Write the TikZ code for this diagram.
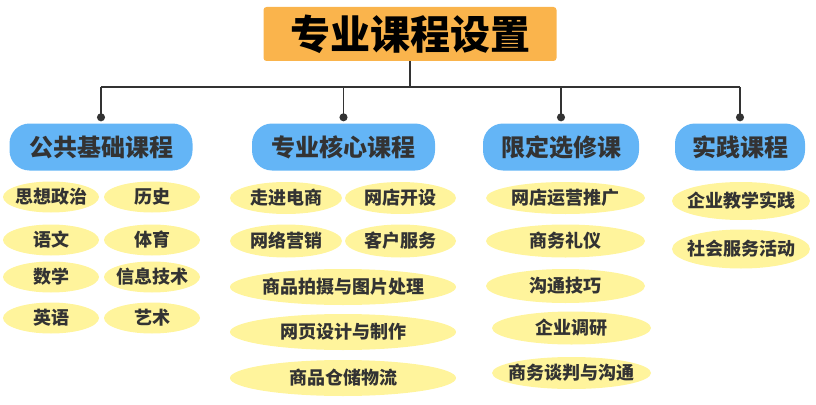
\documentclass[tikz,border=0pt]{standalone}
\usepackage{fontspec}
\setmainfont{Noto Sans CJK SC}
\usepackage{xcolor}
\usetikzlibrary{arrows.meta,positioning,shapes.geometric}

\definecolor{titleorange}{RGB}{250,180,76}
\definecolor{groupblue}{RGB}{100,181,246}
\definecolor{itemyellow}{RGB}{255,244,156}
\definecolor{ink}{RGB}{51,51,51}

\tikzset{
  title/.style={fill=titleorange,rounded corners=3pt,minimum width=293pt,minimum height=54pt,
    font=\bfseries\fontsize{40}{44}\selectfont,text=black},
  group/.style={fill=groupblue,rounded corners=20pt,minimum height=47pt,
    font=\bfseries\fontsize{24}{26}\selectfont,text=ink},
  course/.style={ellipse,fill=itemyellow,inner ysep=0pt,inner xsep=-16pt,minimum height=31pt,
    font=\bfseries\fontsize{18}{20}\selectfont,text=ink},
  link/.style={draw=ink,line width=1.3pt},
}

\begin{document}
\begin{tikzpicture}[x=1pt,y=-1pt,>={Circle[length=8pt]}]
  \useasboundingbox (0,0) rectangle (816,404);
  \node[title] (top) at (410,34) {专业课程设置};
  \coordinate (bus) at (410,87);

  % the four groups
  \node[group,minimum width=183pt] (base)  at (101,147)   {公共基础课程};
  \node[group,minimum width=183pt] (core)  at (343.5,147) {专业核心课程};
  \node[group,minimum width=156pt] (elect) at (561,147)   {限定选修课};
  \node[group,minimum width=130pt] (prac)  at (740,147)   {实践课程};

  \draw[link] (top) -- (bus);
  \draw[link] (base |- bus) -- (prac |- bus);
  \foreach \g in {base,core,elect,prac}
    \draw[link,->,shorten >=2pt] (\g |- bus) -- (\g.north);

  % public basics
  \node[course,minimum width=96pt] (b1) at (51,197)  {思想政治};
  \node[course,minimum width=96pt] (b2) at (152,197) {历史};
  \node[course,minimum width=96pt] (b3) at (51,240)  {语文};
  \node[course,minimum width=96pt] (b4) at (152,240) {体育};
  \node[course,minimum width=96pt] (b5) at (51,277)  {数学};
  \node[course,minimum width=96pt] (b6) at (152,277) {信息技术};
  \node[course,minimum width=96pt] (b7) at (51,318)  {英语};
  \node[course,minimum width=96pt] (b8) at (152,318) {艺术};

  % core
  \node[course,minimum width=112pt,minimum height=32pt] (c1) at (286,198)   {走进电商};
  \node[course,minimum width=111pt,minimum height=32pt] (c2) at (400.5,198) {网店开设};
  \node[course,minimum width=112pt,minimum height=33pt] (c3) at (286,241)   {网络营销};
  \node[course,minimum width=111pt,minimum height=33pt] (c4) at (400.5,241) {客户服务};
  \node[course,minimum width=226pt,minimum height=36pt] (c5) at (343,287) {商品拍摄与图片处理};
  \node[course,minimum width=226pt,minimum height=36pt] (c6) at (343,332) {网页设计与制作};
  \node[course,minimum width=226pt,minimum height=36pt] (c7) at (343,378) {商品仓储物流};

  % electives
  \node[course,minimum width=159pt,minimum height=32pt] (e1) at (565.5,198) {网店运营推广};
  \node[course,minimum width=159pt,minimum height=33pt] (e2) at (565.5,241) {商务礼仪};
  \node[course,minimum width=159pt,minimum height=34pt] (e3) at (565.5,286) {沟通技巧};
  \node[course,minimum width=159pt,minimum height=33pt] (e4) at (571.5,328) {企业调研};
  \node[course,minimum width=159pt,minimum height=32pt] (e5) at (571.5,373) {商务谈判与沟通};

  % practice
  \node[course,minimum width=138pt,minimum height=38pt] (p1) at (741,201) {企业教学实践};
  \node[course,minimum width=138pt,minimum height=39pt] (p2) at (741,249) {社会服务活动};
\end{tikzpicture}
\end{document}
